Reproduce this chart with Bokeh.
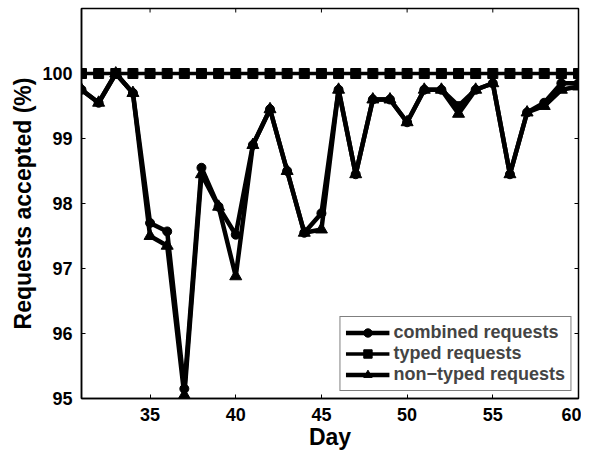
import math
from bokeh.plotting import figure
from bokeh.models import Range1d, Legend, LegendItem, FixedTicker
from bokeh.embed import file_html
from bokeh.resources import INLINE

days = list(range(31, 61))
combined = [99.75, 99.55, 100.0, 99.7, 97.7, 97.57, 95.15, 98.55, 97.95, 97.52,
            98.9, 99.45, 98.5, 97.55, 97.85, 99.75, 98.45, 99.6, 99.6, 99.25,
            99.75, 99.75, 99.5, 99.75, 99.85, 98.45, 99.4, 99.55, 99.85, 99.85]
typed = [100.0] * 30
non_typed = [99.75, 99.55, 100.0, 99.7, 97.5, 97.35, 95.05, 98.45, 97.95, 96.88,
             98.9, 99.45, 98.5, 97.55, 97.6, 99.75, 98.45, 99.6, 99.6, 99.25,
             99.75, 99.75, 99.38, 99.75, 99.85, 98.45, 99.4, 99.5, 99.75, 99.8]
x_ticks = [35, 40, 45, 50, 55, 60]
y_ticks = [95, 96, 97, 98, 99, 100]
x_min, x_max = 31, 60
y_min, y_max = 95, 101

FONT = "Liberation Sans"

p = figure(width=581, height=452, output_backend="svg", toolbar_location=None,
           x_range=Range1d(x_min, x_max), y_range=Range1d(y_min, y_max),
           min_border_left=81, min_border_right=3, min_border_top=8, min_border_bottom=54)
p.grid.visible = False
p.outline_line_color = "black"
p.outline_line_width = 1.5

for ax in (p.xaxis[0], p.yaxis[0]):
    ax.major_tick_in = 4
    ax.major_tick_out = 0
    ax.minor_tick_line_color = None
    ax.axis_line_width = 1.5
    ax.major_label_text_font = FONT
    ax.major_label_text_font_style = "bold"
    ax.major_label_text_font_size = "18px"
    ax.major_label_text_color = "black"
    ax.axis_label_text_font = FONT
    ax.axis_label_text_font_style = "bold"
    ax.axis_label_text_font_size = "23px"
    ax.axis_label_text_color = "black"
p.xaxis[0].ticker = FixedTicker(ticks=x_ticks)
p.yaxis[0].ticker = FixedTicker(ticks=y_ticks)
p.xaxis[0].axis_label = "Day"
p.yaxis[0].axis_label = "Requests accepted (%)"
p.xaxis[0].axis_label_standoff = 0
p.yaxis[0].axis_label_standoff = 3
p.xaxis[0].major_label_standoff = 9
p.yaxis[0].major_label_standoff = 9

# inward ticks on the top and right edges of the box
p.scatter(x_ticks, [y_max] * len(x_ticks), marker="dash", angle=math.pi / 2,
          size=8, line_color="black", line_width=1)
p.scatter([x_max] * len(y_ticks), y_ticks, marker="dash",
          size=8, line_color="black", line_width=1)

l1 = p.line(days, combined, line_color="black", line_width=4.5)
m1 = p.scatter(days, combined, marker="circle", size=9, color="black")
l2 = p.line(days, typed, line_color="black", line_width=3.5)
m2 = p.scatter(days, typed, marker="square", size=10, color="black")
l3 = p.line(days, non_typed, line_color="black", line_width=4.5)
m3 = p.scatter(days, non_typed, marker="triangle", size=12, color="black")

legend = Legend(items=[
    LegendItem(label="combined requests", renderers=[l1, m1]),
    LegendItem(label="typed requests", renderers=[l2, m2]),
    LegendItem(label="non\u2212typed requests", renderers=[l3, m3]),
], location="bottom_right")
legend.label_text_font = FONT
legend.label_text_font_style = "bold"
legend.label_text_font_size = "18px"
legend.label_standoff = 4
legend.glyph_width = 44
legend.glyph_height = 21
legend.label_height = 21
legend.spacing = 0
legend.padding = 5
legend.margin = 7
legend.border_line_color = "black"
legend.border_line_width = 1.5
p.add_layout(legend)

open("out.html", "w").write(file_html(p, INLINE))
